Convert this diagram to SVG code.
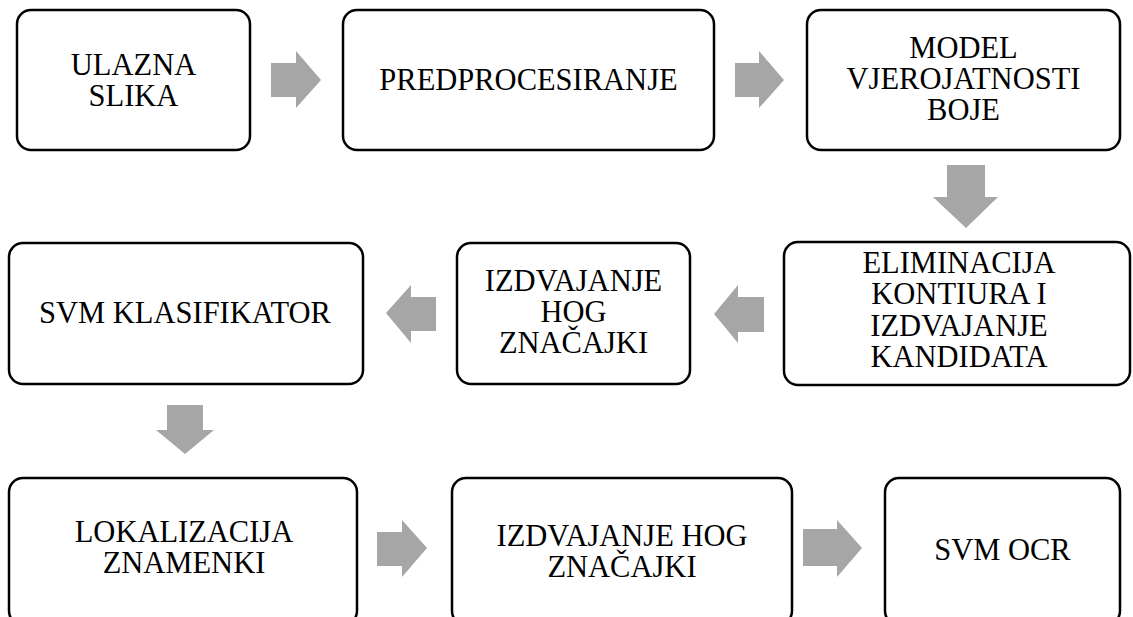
<svg xmlns="http://www.w3.org/2000/svg" width="1133" height="617" viewBox="0 0 1133 617">
<style>
.box{fill:#fff;stroke:#000;stroke-width:2.5}
.t{font-family:'Liberation Serif','Times New Roman',Tinos,serif;font-size:30.5px;fill:#000;text-anchor:middle}
.ar{fill:#a6a6a6}
</style>
<rect width="1133" height="617" fill="#fff"/>
<g id="connectors">
<polygon class="ar" points="271,63 296,63 296,51 321,80 296,108 296,97 271,97"/>
<polygon class="ar" points="735,63 759,63 759,51 784,80 759,108 759,97 735,97"/>
<polygon class="ar" points="947,165 985,165 985,197 998,197 966,228 933,197 947,197"/>
<polygon class="ar" points="764,297 738,297 738,285 714,314 738,343 738,332 764,332"/>
<polygon class="ar" points="436,297 411,297 411,285 386,313 411,343 411,331 436,331"/>
<polygon class="ar" points="167,405 203,405 203,430 214,430 185,454 156,430 167,430"/>
<polygon class="ar" points="377,532 402,532 402,520 427,548 402,577 402,566 377,566"/>
<polygon class="ar" points="803,529 837,529 837,520 862,548 837,577 837,566 803,566"/>
</g>
<g id="n1"><rect class="box" x="17" y="10" width="233" height="140" rx="14"/>
<text class="t" x="133.5" y="75">ULAZNA</text><text class="t" x="133.5" y="106">SLIKA</text></g>
<g id="n2"><rect class="box" x="343" y="10" width="371" height="140" rx="14"/>
<text class="t" x="528.5" y="90">PREDPROCESIRANJE</text></g>
<g id="n3"><rect class="box" x="807" y="10" width="313" height="140" rx="14"/>
<text class="t" x="963.5" y="58">MODEL</text><text class="t" x="963.5" y="89">VJEROJATNOSTI</text><text class="t" x="963.5" y="120">BOJE</text></g>
<g id="n4"><rect class="box" x="784" y="242" width="346" height="143" rx="14"/>
<text class="t" x="959" y="273">ELIMINACIJA</text><text class="t" x="959" y="304">KONTIURA I</text><text class="t" x="959" y="335.5">IZDVAJANJE</text><text class="t" x="959" y="367">KANDIDATA</text></g>
<g id="n5"><rect class="box" x="457" y="243" width="233" height="141" rx="14"/>
<text class="t" x="573.5" y="291">IZDVAJANJE</text><text class="t" x="573.5" y="322">HOG</text><text class="t" x="573.5" y="353">ZNAČAJKI</text></g>
<g id="n6"><rect class="box" x="9" y="243" width="354" height="141" rx="14"/>
<text class="t" x="185" y="323">SVM KLASIFIKATOR</text></g>
<g id="n7"><rect class="box" x="9" y="478" width="348" height="147" rx="14"/>
<text class="t" x="184" y="542">LOKALIZACIJA</text><text class="t" x="184" y="573">ZNAMENKI</text></g>
<g id="n8"><rect class="box" x="452" y="478" width="340" height="147" rx="14"/>
<text class="t" x="622" y="546">IZDVAJANJE HOG</text><text class="t" x="622" y="577">ZNAČAJKI</text></g>
<g id="n9"><rect class="box" x="885" y="478" width="235" height="147" rx="14"/>
<text class="t" x="1002.5" y="560">SVM OCR</text></g>
</svg>
